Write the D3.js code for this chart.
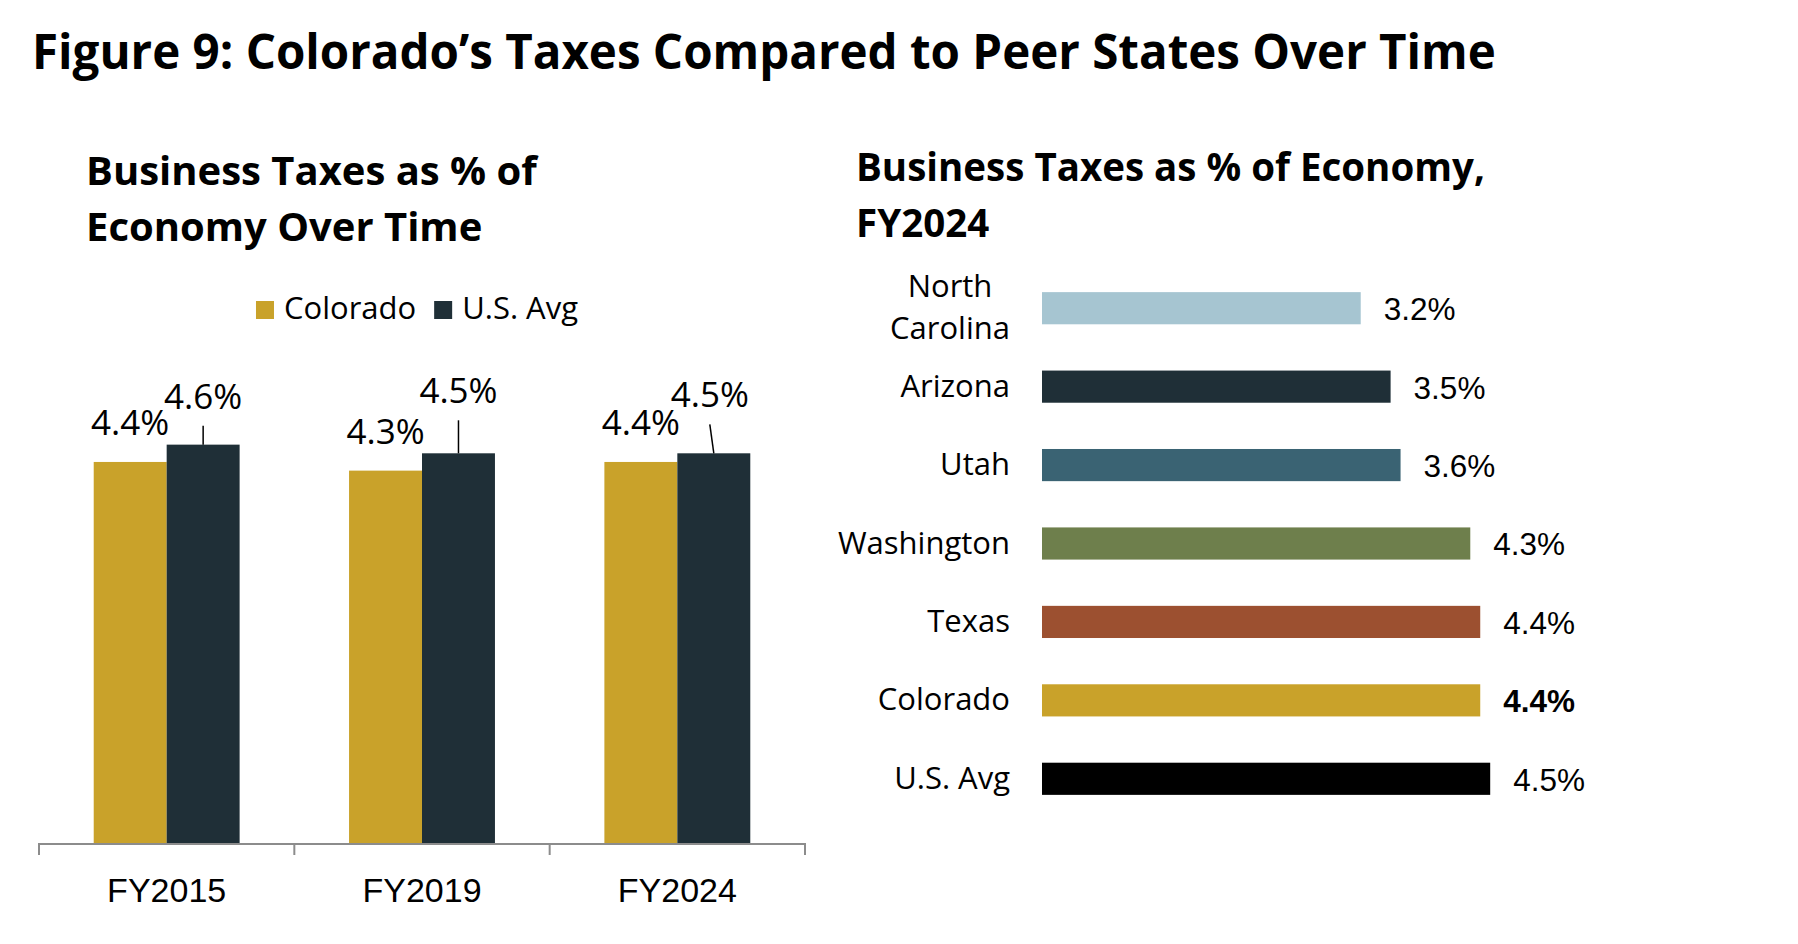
<!DOCTYPE html>
<html>
<head>
<meta charset="utf-8">
<script src="https://cdn.jsdelivr.net/npm/d3@7"></script>
<style>
  body { margin: 0; background: #fff; }
  svg { display: block; }
</style>
</head>
<body>
<svg width="1798" height="944"></svg>
<script>
// ---- data ----
var years = ['FY2015', 'FY2019', 'FY2024'];
var seriesNames = ['Colorado', 'U.S. Avg'];
var coloradoValues = [4.4, 4.3, 4.4];
var usAvgValues = [4.6, 4.5, 4.5];

var states = ['North Carolina', 'Arizona', 'Utah', 'Washington', 'Texas', 'Colorado', 'U.S. Avg'];
var stateValues = [3.2, 3.5, 3.6, 4.3, 4.4, 4.4, 4.5];
var stateColors = ['#a6c5d1', '#1f2f37', '#3a6373', '#6e7f4c', '#9c5030', '#c9a22a', '#000000'];
var seriesColors = ['#c9a22a', '#1f2f37'];

var aptos = "'Open Sans', 'Noto Sans', sans-serif";
var arial = "'Liberation Sans', Arial, sans-serif";

var svg = d3.select('svg');

// ---- titles ----
svg.append('text')
    .attr('x', 32).attr('y', 69)
    .style('font-family', aptos).style('font-weight', 700).style('font-size', '47.5px')
    .text('Figure 9: Colorado\u2019s Taxes Compared to Peer States Over Time');

function title(x, y, size, lines) {
    var t = svg.append('text')
        .style('font-family', aptos).style('font-weight', 700).style('font-size', size + 'px');
    lines.forEach(function(l, i) {
        t.append('tspan').attr('x', x).attr('y', y + i * 56).text(l);
    });
}
title(86, 185, 40, ['Business Taxes as % of', 'Economy Over Time']);
title(856, 181, 38.5, ['Business Taxes as % of Economy,', 'FY2024']);

// ---- left chart: grouped columns ----
var x0 = d3.scaleBand().domain(years).range([39, 805]);
var x1 = d3.scaleBand().domain(seriesNames).range([0, x0.bandwidth()]).paddingOuter(0.75);
var y = d3.scaleLinear().domain([0, 5]).range([843, 410]);

var rows = years.map(function(yr, i) {
    return { year: yr, vals: [coloradoValues[i], usAvgValues[i]] };
});

var groups = svg.selectAll('g.yr')
    .data(rows)
    .enter().append('g')
    .attr('class', 'yr')
    .attr('transform', function(d) { return 'translate(' + x0(d.year) + ',0)'; });

groups.selectAll('rect')
    .data(function(d) { return d.vals.map(function(v, j) { return { s: seriesNames[j], v: v, j: j }; }); })
    .enter().append('rect')
    .attr('x', function(d) { return x1(d.s); })
    .attr('width', x1.bandwidth())
    .attr('y', function(d) { return y(d.v); })
    .attr('height', function(d) { return y(0) - y(d.v); })
    .style('fill', function(d) { return seriesColors[d.j]; });

// colorado labels sit right above the bar
groups.append('text')
    .attr('x', x1('Colorado') + x1.bandwidth() / 2)
    .attr('y', function(d) { return y(d.vals[0]) - 27; })
    .attr('text-anchor', 'middle')
    .style('font-family', aptos).style('font-size', '35px')
    .text(function(d) { return d.vals[0].toFixed(1) + '%'; });

// us labels were pulled up, with leader lines
var usLabelLift = [36, 50, 46];
var usLabelShift = [0, 0, -4];
groups.append('line')
    .attr('x1', function(d, i) { return x1('U.S. Avg') + x1.bandwidth() / 2 + usLabelShift[i]; })
    .attr('y1', function(d, i) { return y(d.vals[1]) - usLabelLift[i] + 17; })
    .attr('x2', x1('U.S. Avg') + x1.bandwidth() / 2)
    .attr('y2', function(d) { return y(d.vals[1]); })
    .style('stroke', '#000').style('stroke-width', 1.5);

groups.append('text')
    .attr('x', function(d, i) { return x1('U.S. Avg') + x1.bandwidth() / 2 + usLabelShift[i]; })
    .attr('y', function(d, i) { return y(d.vals[1]) - usLabelLift[i]; })
    .attr('text-anchor', 'middle')
    .style('font-family', aptos).style('font-size', '35px')
    .text(function(d) { return d.vals[1].toFixed(1) + '%'; });

// x axis: labels from d3, ticks at the band edges
var xAxis = svg.append('g')
    .attr('transform', 'translate(0,' + y(0) + ')')
    .call(d3.axisBottom(x0).tickSize(0).tickPadding(0));
xAxis.select('.domain').remove();
xAxis.selectAll('text')
    .attr('y', 59).attr('dy', 0)
    .style('font-family', arial).style('font-size', '34px').style('fill', '#000');

var edges = years.map(function(d) { return x0(d); }).concat([x0.range()[1]]);
svg.append('line')
    .attr('x1', x0.range()[0]).attr('x2', x0.range()[1])
    .attr('y1', y(0) + 1).attr('y2', y(0) + 1)
    .style('stroke', '#8c8c8c').style('stroke-width', 2);
svg.selectAll('line.edge')
    .data(edges)
    .enter().append('line')
    .attr('class', 'edge')
    .attr('x1', function(d) { return d; }).attr('x2', function(d) { return d; })
    .attr('y1', y(0)).attr('y2', y(0) + 12)
    .style('stroke', '#8c8c8c').style('stroke-width', 2);

// legend
var legend = svg.append('g');
var lx = 0;
seriesNames.forEach(function(name, i) {
    var item = legend.append('g').attr('transform', 'translate(' + lx + ',0)');
    item.append('rect').attr('x', 0).attr('y', 301).attr('width', 18).attr('height', 18)
        .style('fill', seriesColors[i]);
    var t = item.append('text').attr('x', 28).attr('y', 319)
        .style('font-family', aptos).style('font-size', '31px').text(name);
    lx += 28 + t.node().getComputedTextLength() + 18;
});
legend.attr('transform', 'translate(' + (417 - (lx - 18) / 2) + ',0)');

// ---- right chart: horizontal bars ----
var yb = d3.scaleBand().domain(states).range([269, 818]).paddingInner(0.59).paddingOuter(0.295);
var xb = d3.scaleLinear().domain([0, 5]).range([1042, 1540]);

svg.selectAll('rect.state')
    .data(states)
    .enter().append('rect')
    .attr('class', 'state')
    .attr('x', xb(0))
    .attr('y', function(d) { return yb(d); })
    .attr('width', function(d, i) { return xb(stateValues[i]) - xb(0); })
    .attr('height', yb.bandwidth())
    .style('fill', function(d, i) { return stateColors[i]; });

svg.selectAll('text.val')
    .data(states)
    .enter().append('text')
    .attr('class', 'val')
    .attr('x', function(d, i) { return xb(stateValues[i]) + 23; })
    .attr('y', function(d) { return yb(d) + yb.bandwidth() / 2; })
    .attr('dy', '0.38em')
    .style('font-family', arial).style('font-size', '31.5px')
    .style('font-weight', function(d) { return d === 'Colorado' ? 700 : 400; })
    .text(function(d, i) { return stateValues[i].toFixed(1) + '%'; });

// category labels, wrapped names centred as a block
var catLabels = {
    'North Carolina': ['North', 'Carolina']
};
states.forEach(function(d) {
    var lines = catLabels[d] || [d];
    var cy = yb(d) + yb.bandwidth() / 2;
    var t = svg.append('text')
        .style('font-family', aptos).style('font-size', '31px')
        .attr('text-anchor', 'middle');
    var spans = lines.map(function(l, k) {
        return t.append('tspan').attr('y', cy + 10 + (k - (lines.length - 1) / 2) * 42).text(l);
    });
    var w = d3.max(spans, function(s) { return s.node().getComputedTextLength(); });
    spans.forEach(function(s) { s.attr('x', 1010 - w / 2); });
});
</script>
</body>
</html>
